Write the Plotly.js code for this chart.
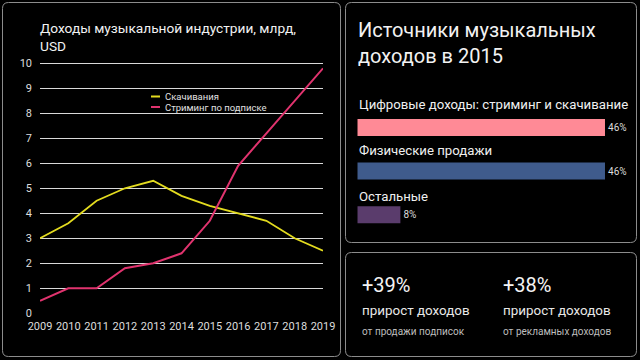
<!DOCTYPE html>
<html>
<head>
<meta charset="utf-8">
<script src="https://cdn.plot.ly/plotly-3.0.1.min.js"></script>
<style>
html,body{margin:0;padding:0;background:#000;}
#chart{width:640px;height:360px;}
</style>
</head>
<body>
<div id="chart"></div>
<script>
// ---------- data ----------
const years = [2009, 2010, 2011, 2012, 2013, 2014, 2015, 2016, 2017, 2018, 2019];
const downloads = [3.0, 3.6, 4.5, 5.0, 5.3, 4.7, 4.3, 4.0, 3.7, 3.0, 2.5];
const streaming = [0.5, 1.0, 1.0, 1.8, 2.0, 2.4, 3.7, 5.9, 7.2, 8.5, 9.8];
const seriesNames = ['Скачивания', 'Стриминг по подписке'];
const yTicks = [0, 1, 2, 3, 4, 5, 6, 7, 8, 9, 10];
const gridTicks = [1, 2, 3, 4, 5, 6, 7, 8, 9, 10];
const lineTitle = 'Доходы музыкальной индустрии, млрд,<br>USD';

const shareTitle = 'Источники музыкальных<br>доходов в 2015';
const shareCategories = ['Цифровые доходы: стриминг и скачивание', 'Физические продажи', 'Остальные'];
const shareValues = [46, 46, 8];

const growthValues = ['+39%', '+38%'];
const growthLabels = ['прирост доходов', 'прирост доходов'];
const growthNotes = ['от продажи подписок', 'от рекламных доходов'];

// ---------- styling ----------
const W = 640, H = 360;
const fx = x => x / W;
const fy = y => 1 - y / H;
const FONT = 'Roboto, "Noto Sans", sans-serif';
const seriesColors = ['#e3db1f', '#e0336e'];
const barColors = ['#ff8a96', '#3f5b8c', '#5a3c6c'];
const labelShifts = [22.5, 20.5, 18];

function roundRect(x0, y0, x1, y1, r) {
  const X = fx, Y = fy;
  return 'M' + X(x0 + r) + ',' + Y(y0) +
    ' L' + X(x1 - r) + ',' + Y(y0) +
    ' Q' + X(x1) + ',' + Y(y0) + ' ' + X(x1) + ',' + Y(y0 + r) +
    ' L' + X(x1) + ',' + Y(y1 - r) +
    ' Q' + X(x1) + ',' + Y(y1) + ' ' + X(x1 - r) + ',' + Y(y1) +
    ' L' + X(x0 + r) + ',' + Y(y1) +
    ' Q' + X(x0) + ',' + Y(y1) + ' ' + X(x0) + ',' + Y(y1 - r) +
    ' L' + X(x0) + ',' + Y(y0 + r) +
    ' Q' + X(x0) + ',' + Y(y0) + ' ' + X(x0 + r) + ',' + Y(y0) + ' Z';
}

const panelLine = {color: '#8c8c8c', width: 1};
const shapes = [
  {type: 'path', xref: 'paper', yref: 'paper', path: roundRect(2.5, 2.5, 340.5, 356.5, 6), line: panelLine, layer: 'below'},
  {type: 'path', xref: 'paper', yref: 'paper', path: roundRect(345.5, 2.5, 636.5, 242.5, 6), line: panelLine, layer: 'below'},
  {type: 'path', xref: 'paper', yref: 'paper', path: roundRect(345.5, 252.5, 636.5, 356.5, 6), line: panelLine, layer: 'below'},
  // legend backdrop
  {type: 'rect', xref: 'paper', yref: 'paper', x0: fx(145), x1: fx(270), y0: fy(116), y1: fy(90),
   fillcolor: '#000', line: {width: 0}, layer: 'between'}
];

const annotations = [];
// titles
annotations.push({xref: 'paper', yref: 'paper', x: fx(38), y: fy(17.5), xanchor: 'left', yanchor: 'top', align: 'left',
  text: lineTitle, showarrow: false, font: {family: FONT, size: 13.7, color: '#f2f2f2'}});
annotations.push({xref: 'paper', yref: 'paper', x: fx(356), y: fy(16), xanchor: 'left', yanchor: 'top', align: 'left',
  text: shareTitle, showarrow: false, font: {family: FONT, size: 20, color: '#f2f2f2'}});

// legend
seriesNames.forEach((name, i) => {
  const yc = 96.5 + i * 10.5;
  shapes.push({type: 'line', xref: 'paper', yref: 'paper', x0: fx(151), x1: fx(160), y0: fy(yc), y1: fy(yc),
    line: {color: seriesColors[i], width: 2}});
  annotations.push({xref: 'paper', yref: 'paper', x: fx(163), y: fy(yc), xanchor: 'left', yanchor: 'middle',
    text: name, showarrow: false, font: {family: FONT, size: 9.5, color: '#e0e0e0'}});
});

// bar category labels
shareCategories.forEach((c, i) => {
  annotations.push({xref: 'x2', yref: 'y2', x: 0, y: c, xanchor: 'left', yanchor: 'middle', yshift: labelShifts[i],
    text: c, showarrow: false, font: {family: FONT, size: 13.2, color: '#f0f0f0'}});
});

// growth block
growthValues.forEach((v, i) => {
  const x = [360, 501][i];
  annotations.push({xref: 'paper', yref: 'paper', x: fx(x), y: fy(285), xanchor: 'left', yanchor: 'middle',
    text: v, showarrow: false, font: {family: FONT, size: 20, color: '#f4f4f4'}});
  annotations.push({xref: 'paper', yref: 'paper', x: fx(x), y: fy(310), xanchor: 'left', yanchor: 'middle',
    text: growthLabels[i], showarrow: false, font: {family: FONT, size: 13.4, color: '#e8e8e8'}});
  annotations.push({xref: 'paper', yref: 'paper', x: fx(x), y: fy(331.5), xanchor: 'left', yanchor: 'middle',
    text: growthNotes[i], showarrow: false, font: {family: FONT, size: 10, color: '#bdbdbd'}});
});

const traces = [
  {type: 'scatter', mode: 'lines', x: years, y: downloads, name: seriesNames[0],
   line: {color: seriesColors[0], width: 1.8}, xaxis: 'x', yaxis: 'y', hoverinfo: 'skip'},
  {type: 'scatter', mode: 'lines', x: years, y: streaming, name: seriesNames[1],
   line: {color: seriesColors[1], width: 2}, xaxis: 'x', yaxis: 'y', hoverinfo: 'skip'},
  {type: 'bar', orientation: 'h', x: shareValues, y: shareCategories, xaxis: 'x2', yaxis: 'y2',
   marker: {color: barColors, line: {width: 0}}, width: 0.39,
   text: shareValues.map(v => v + '%'), textposition: 'outside', cliponaxis: false,
   textfont: {family: FONT, size: 10, color: '#dcdcdc'}, hoverinfo: 'skip'}
];

const yDom = [fy(314.55), fy(62.05)];
const layout = {
  width: W, height: H,
  margin: {l: 0, r: 0, t: 0, b: 0},
  paper_bgcolor: '#000', plot_bgcolor: 'rgba(0,0,0,0)',
  showlegend: false,
  font: {family: FONT, color: '#dddddd'},
  xaxis: {domain: [fx(40), fx(323)], range: [2009, 2019], tickvals: years, ticktext: years.map(String),
    showgrid: false, zeroline: false, showline: false, ticks: '', ticklabelstandoff: 3,
    tickfont: {family: FONT, size: 11, color: '#dddddd'}, anchor: 'y', fixedrange: true},
  yaxis: {domain: yDom, range: [-0.05, 10.05], tickvals: yTicks, ticktext: yTicks.map(String),
    showgrid: false, zeroline: false, showline: false, ticks: '', ticklabelstandoff: 7,
    tickfont: {family: FONT, size: 11, color: '#dddddd'}, anchor: 'x', fixedrange: true},
  yaxis3: {overlaying: 'y', anchor: 'x', range: [-0.05, 10.05], tickvals: gridTicks, showticklabels: false,
    showgrid: true, gridcolor: '#d9d9d9', gridwidth: 1, zeroline: false, ticks: ''},
  xaxis2: {domain: [fx(357.3), fx(605)], range: [0, 46], visible: false, anchor: 'y2', fixedrange: true},
  yaxis2: {domain: [fy(236.5), fy(105.7)], type: 'category', categoryarray: shareCategories,
    range: [2.5, -0.5], visible: false, anchor: 'x2', fixedrange: true},
  shapes: shapes,
  annotations: annotations
};

// empty trace on the overlay axis that carries the grid lines
traces.unshift({type: 'scatter', mode: 'lines', x: [2009, 2019], y: [null, null], xaxis: 'x', yaxis: 'y3',
  hoverinfo: 'skip', showlegend: false});

Plotly.newPlot('chart', traces, layout, {staticPlot: true, displayModeBar: false});
</script>
</body>
</html>
